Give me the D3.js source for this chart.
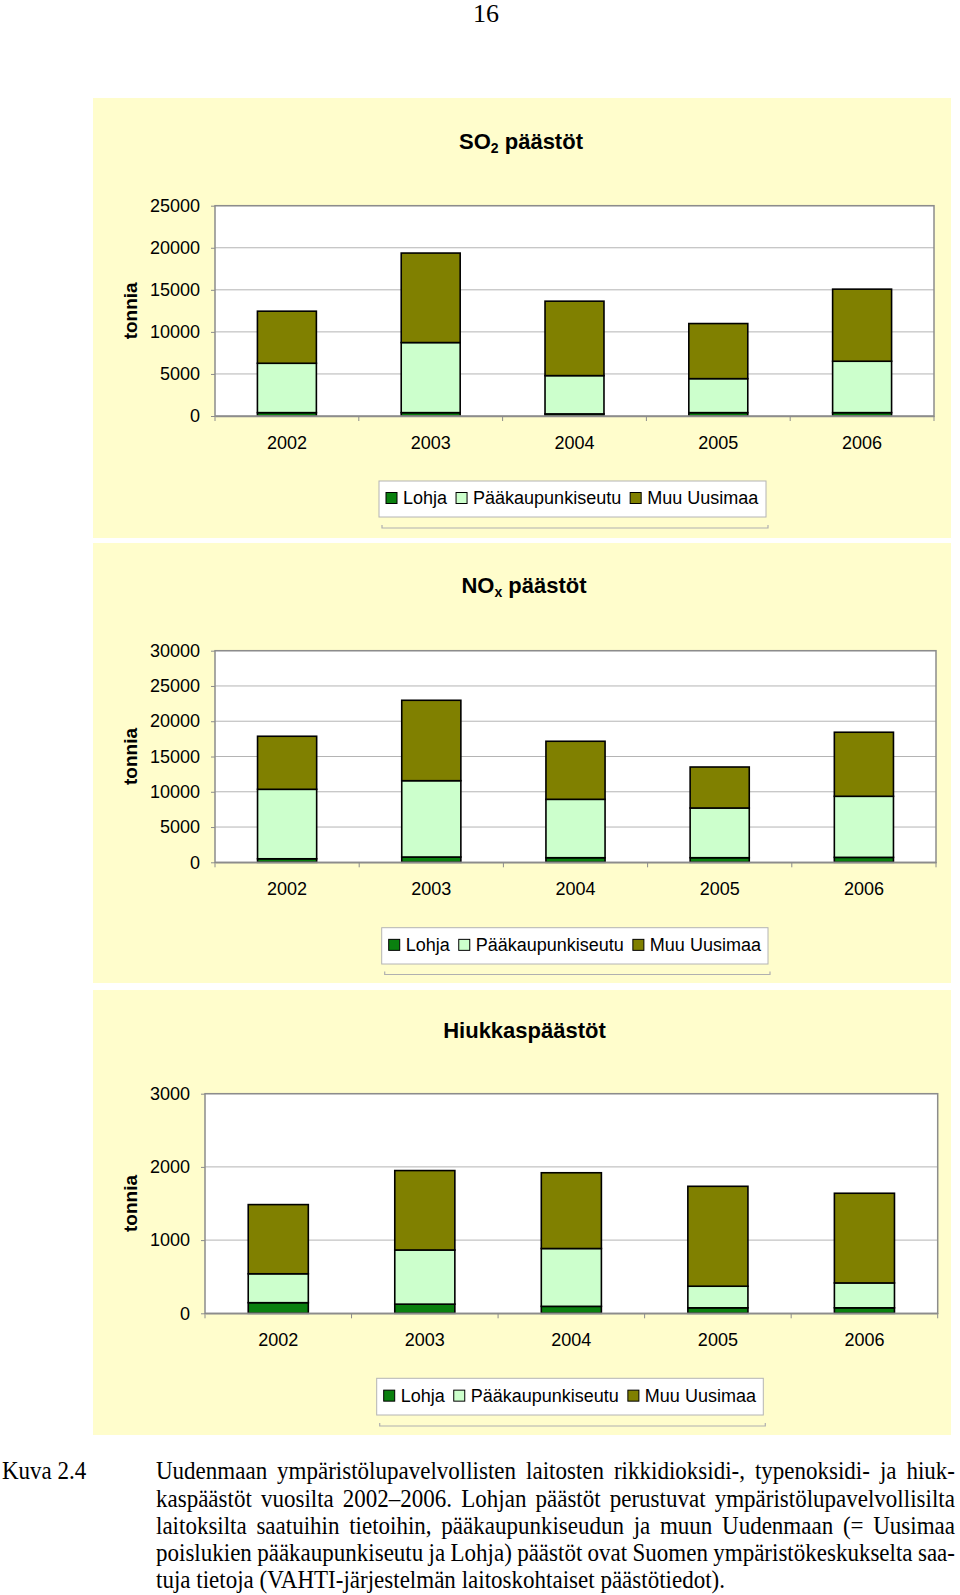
<!DOCTYPE html>
<html><head><meta charset="utf-8">
<script src="https://cdn.jsdelivr.net/npm/d3@7"></script>
<style>body{margin:0;background:#fff} svg{display:block}</style>
</head><body>
<svg id="c" width="960" height="1595"></svg>
<script>
// ---------- DATA ----------
const years = ["2002", "2003", "2004", "2005", "2006"];
const seriesNames = ["Lohja", "Pääkaupunkiseutu", "Muu Uusimaa"];

const so2Lohja = [400, 400, 250, 400, 400];
const so2Paak  = [5870, 8330, 4550, 4040, 6110];
const so2Muu   = [6190, 10640, 8850, 6550, 8570];
const so2Ticks = [0, 5000, 10000, 15000, 20000, 25000];

const noxLohja = [500, 750, 650, 650, 700];
const noxPaak  = [9850, 10820, 8280, 7050, 8660];
const noxMuu   = [7520, 11400, 8230, 5810, 9080];
const noxTicks = [0, 5000, 10000, 15000, 20000, 25000, 30000];

const pmLohja = [145, 125, 95, 75, 75];
const pmPaak  = [395, 740, 790, 295, 340];
const pmMuu   = [945, 1085, 1035, 1365, 1225];
const pmTicks = [0, 1000, 2000, 3000];

const yLabel = "tonnia";
const pageNumber = "16";
const captionLabel = "Kuva 2.4";
const captionLines = [
  "Uudenmaan ympäristölupavelvollisten laitosten rikkidioksidi-, typenoksidi- ja hiuk-",
  "kaspäästöt vuosilta 2002–2006. Lohjan päästöt perustuvat ympäristölupavelvollisilta",
  "laitoksilta saatuihin tietoihin, pääkaupunkiseudun ja muun Uudenmaan (= Uusimaa",
  "poislukien pääkaupunkiseutu ja Lohja) päästöt ovat Suomen ympäristökeskukselta saa-",
  "tuja tietoja (VAHTI-järjestelmän laitoskohtaiset päästötiedot)."
];

// ---------- STYLE ----------
const colors = ["#0a800f", "#CCFFCC", "#808000"];
const SANS = "'Liberation Sans', Arial, Helvetica, sans-serif";
const SERIF = "'Liberation Serif', 'Times New Roman', serif";
const panelFill = "#FFFDCC";

const svg = d3.select("#c");

svg.append("text").attr("x", 486).attr("y", 22).attr("text-anchor", "middle")
  .attr("font-family", SERIF).attr("font-size", 26).text(pageNumber);

const panels = [
  { title: ["SO", "2", " päästöt"], L: so2Lohja, P: so2Paak, M: so2Muu, ticks: so2Ticks,
    py0: 98, py1: 538, x0: 215, x1: 934, y0: 205.7, y1: 416, tx: 521, ty: 149,
    leg: [379, 766, 481, 517], legLine: 528 },
  { title: ["NO", "x", " päästöt"], L: noxLohja, P: noxPaak, M: noxMuu, ticks: noxTicks,
    py0: 543, py1: 983, x0: 215, x1: 936, y0: 650.7, y1: 862.3, tx: 524, ty: 593.3,
    leg: [381.7, 768, 927.7, 964], legLine: 974.5 },
  { title: ["Hiukkaspäästöt"], L: pmLohja, P: pmPaak, M: pmMuu, ticks: pmTicks,
    py0: 990, py1: 1435, x0: 205, x1: 937.7, y0: 1093.7, y1: 1313.3, tx: 524.5, ty: 1038.3,
    leg: [376.7, 763.3, 1378.3, 1415], legLine: 1426 }
];

function drawPanel(c) {
  const g = svg.append("g");
  g.append("rect").attr("x", 93).attr("y", c.py0).attr("width", 858).attr("height", c.py1 - c.py0)
    .attr("fill", panelFill);

  // title
  const t = g.append("text").attr("x", c.tx).attr("y", c.ty).attr("text-anchor", "middle")
    .attr("font-family", SANS).attr("font-weight", "bold").attr("font-size", 22).attr("fill", "#000");
  t.append("tspan").text(c.title[0]);
  if (c.title.length > 1) {
    t.append("tspan").attr("font-size", 14).attr("dy", 4).text(c.title[1]);
    t.append("tspan").attr("dy", -4).text(c.title[2]);
  }

  const x = d3.scaleBand().domain(years).range([c.x0, c.x1]).paddingInner(0.59).paddingOuter(0.295);
  const y = d3.scaleLinear().domain([0, d3.max(c.ticks)]).range([c.y1, c.y0]);

  // plot bg
  g.append("rect").attr("x", c.x0).attr("y", c.y0).attr("width", c.x1 - c.x0).attr("height", c.y1 - c.y0)
    .attr("fill", "#fff");
  // gridlines
  g.append("g").selectAll("line").data(c.ticks.filter(v => v > 0)).join("line")
    .attr("x1", c.x0).attr("x2", c.x1).attr("y1", d => y(d)).attr("y2", d => y(d))
    .attr("stroke", "#b4b4b4").attr("stroke-width", 1);

  // stacked bars
  const rows = years.map((yr, i) => ({ year: yr, Lohja: c.L[i], Paak: c.P[i], Muu: c.M[i] }));
  const stack = d3.stack().keys(["Lohja", "Paak", "Muu"])(rows);
  stack.forEach((s, si) => {
    g.append("g").selectAll("rect").data(s).join("rect")
      .attr("x", d => x(d.data.year)).attr("width", x.bandwidth())
      .attr("y", d => y(d[1])).attr("height", d => y(d[0]) - y(d[1]))
      .attr("fill", colors[si]).attr("stroke", "#000").attr("stroke-width", 1.6);
  });

  // plot border
  g.append("rect").attr("x", c.x0).attr("y", c.y0).attr("width", c.x1 - c.x0).attr("height", c.y1 - c.y0)
    .attr("fill", "none").attr("stroke", "#8c8c8c").attr("stroke-width", 1.5);

  // y axis
  const ya = g.append("g").attr("transform", `translate(${c.x0},0)`)
    .call(d3.axisLeft(y).tickValues(c.ticks).tickSize(4).tickPadding(11).tickFormat(d3.format("d")));
  ya.select(".domain").remove();
  ya.selectAll("line").attr("stroke", "#8c8c8c");
  ya.selectAll("text").attr("font-family", SANS).attr("font-size", 18).attr("fill", "#000");

  // x axis
  const xa = g.append("g").attr("transform", `translate(0,${c.y1})`)
    .call(d3.axisBottom(x).tickSize(0).tickPadding(20));
  xa.select(".domain").attr("stroke", "#8c8c8c").attr("stroke-width", 1.5);
  xa.selectAll("text").attr("font-family", SANS).attr("font-size", 18).attr("fill", "#000");
  // category boundary ticks
  const bounds = years.map(yv => x(yv) - x.step() * x.paddingOuter()).concat([c.x1]);
  g.append("g").selectAll("line").data(bounds).join("line")
    .attr("x1", d => d).attr("x2", d => d).attr("y1", c.y1).attr("y2", c.y1 + 5)
    .attr("stroke", "#8c8c8c").attr("stroke-width", 1);

  // y label
  g.append("text").attr("transform", `translate(137,${(c.y0 + c.y1) / 2}) rotate(-90)`)
    .attr("text-anchor", "middle").attr("font-family", SANS).attr("font-weight", "bold")
    .attr("font-size", 19).text(yLabel);

  // legend
  const [lx0, lx1, ly0, ly1] = c.leg;
  g.append("path").attr("d", `M${lx0 + 3},${c.legLine - 3}V${c.legLine}H${lx1 + 2}V${c.legLine - 3}`)
    .attr("fill", "none").attr("stroke", "#b0b0b0").attr("stroke-width", 1.2);
  g.append("rect").attr("x", lx0).attr("y", ly0).attr("width", lx1 - lx0).attr("height", ly1 - ly0)
    .attr("fill", "#fff").attr("stroke", "#b4b4b4").attr("stroke-width", 1);
  const cy = (ly0 + ly1) / 2 - 1;
  let cx = lx0 + 7;
  seriesNames.forEach((n, i) => {
    g.append("rect").attr("x", cx).attr("y", cy - 5.5).attr("width", 11).attr("height", 11)
      .attr("fill", colors[i]).attr("stroke", "#000").attr("stroke-width", 1);
    const tx = g.append("text").attr("x", cx + 17).attr("y", cy).attr("dy", "0.35em")
      .attr("font-family", SANS).attr("font-size", 18).attr("fill", "#000").text(n);
    cx = cx + 17 + tx.node().getComputedTextLength() + 9;
  });
}
panels.forEach(drawPanel);

// ---------- CAPTION ----------
const capG = svg.append("g").attr("font-family", SERIF).attr("font-size", 25).attr("fill", "#000");
function measure(str) {
  const t = capG.append("text").text(str);
  const w = t.node().getComputedTextLength();
  t.remove();
  return w;
}
const capX0 = 156, capX1 = 955;
const lastW = measure(captionLines[4]);
const sx = 569 / lastW;
const baselines = [1479, 1506.5, 1533.7, 1561, 1588];
capG.append("text").attr("transform", `translate(2,${baselines[0]}) scale(${sx},1)`).text(captionLabel);
captionLines.forEach((line, li) => {
  const words = line.split(" ");
  const ws = words.map(w => measure(w) * sx);
  const spaceW = (measure("a a") - measure("aa")) * sx;
  let gap = spaceW;
  if (li < captionLines.length - 1) {
    gap = (capX1 - capX0 - d3.sum(ws)) / (words.length - 1);
  }
  let xp = capX0;
  words.forEach((w, wi) => {
    capG.append("text").attr("transform", `translate(${xp},${baselines[li]}) scale(${sx},1)`).text(w);
    xp += ws[wi] + gap;
  });
});
</script>
</body></html>
